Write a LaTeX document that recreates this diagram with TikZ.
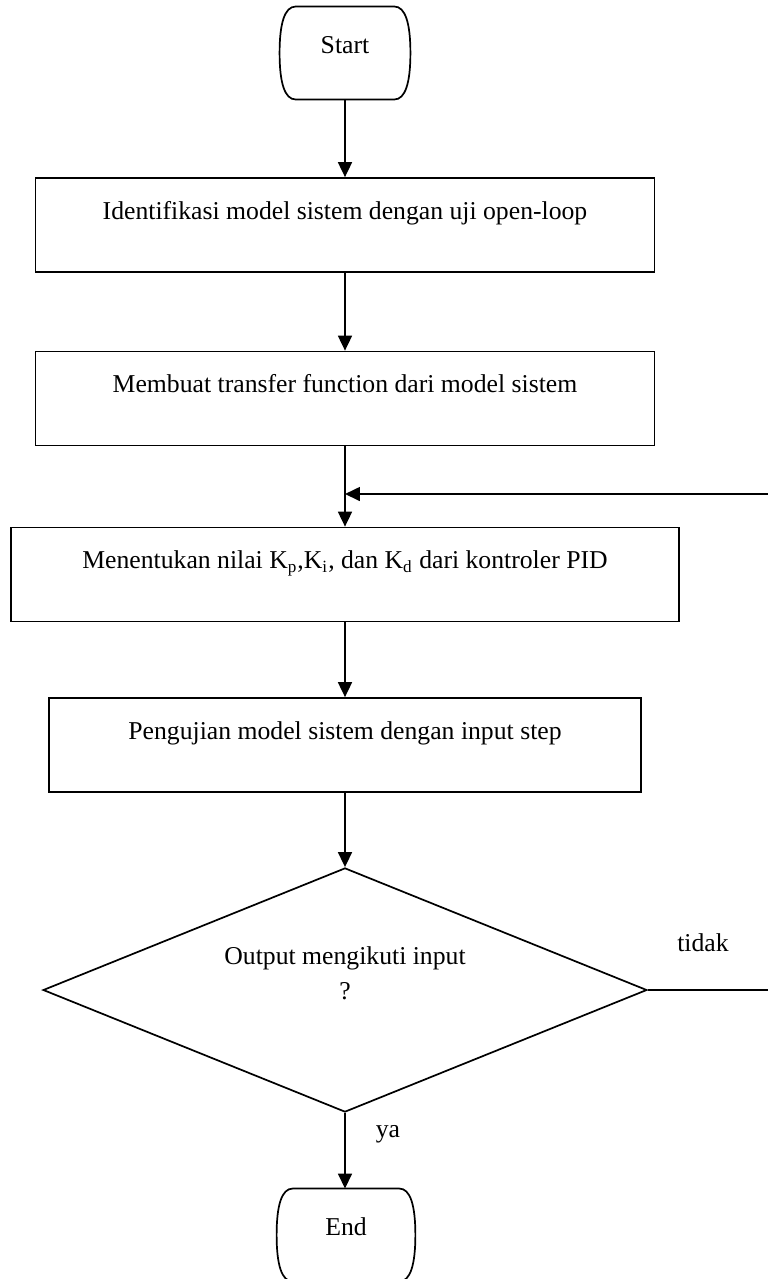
\documentclass[tikz,border=0pt]{standalone}
\usepackage{fontspec}
\setmainfont{Liberation Serif}
\usetikzlibrary{shapes.geometric, arrows.meta}

% outline of a start/end terminal round a named node
\newcommand{\termoutline}[1]{%
  \draw[line width=0.8pt] ([xshift=-7.5pt]#1.north east)
    .. controls ([xshift=-2.4pt]#1.north east) and ([yshift=14pt]#1.east) .. (#1.east)
    .. controls ([yshift=-14pt]#1.east) and ([xshift=-2.4pt]#1.south east) .. ([xshift=-7.5pt]#1.south east)
    -- ([xshift=7.5pt]#1.south west)
    .. controls ([xshift=2.4pt]#1.south west) and ([yshift=-14pt]#1.west) .. (#1.west)
    .. controls ([yshift=14pt]#1.west) and ([xshift=2.4pt]#1.north west) .. ([xshift=7.5pt]#1.north west)
    -- cycle;}

\begin{document}
\begin{tikzpicture}[
    x=0.467pt, y=-0.467pt,
    every node/.style={font=\fontsize{12}{14.5}\selectfont},
    terminal/.style={rectangle, minimum width=60.7pt, minimum height=43pt, text height=8pt, text depth=8pt, inner sep=0pt},
    process/.style={draw, line width=0.8pt, rectangle, minimum height=43.9pt, text height=9pt, text depth=14.6pt, inner sep=0pt},
    decision/.style={draw, line width=0.8pt, diamond, minimum width=282pt, minimum height=114pt, inner sep=0pt},
    arr/.style={-{Triangle[length=7pt, width=6.5pt]}, line width=0.9pt}
]
\useasboundingbox (0,0) rectangle (767,1279);

% Start
\node[terminal] (start) at (345,53) {Start};
\termoutline{start}

% Model identification
\node[process, minimum width=289pt] (ident) at (345,225) {Identifikasi model sistem dengan uji open-loop};
\node[process, minimum width=289pt] (tf) at (345,398.5) {Membuat transfer function dari model sistem};

% Tuning the controller (loop returns here)
\coordinate (jn) at (345,494);
\node[process, minimum width=312pt] (pid) at (345,574.5) {Menentukan nilai K\textsubscript{p},K\textsubscript{i}, dan K\textsubscript{d} dari kontroler PID};
\node[process, minimum width=276.5pt] (uji) at (345,745) {Pengujian model sistem dengan input step};

% Decision
\node[decision] (dec) at (345,990) {};
\node[align=center] (dectxt) at (345,973) {Output mengikuti input\\[1.8pt]?};

% End
\node[terminal, minimum width=64.4pt] (end) at (346,1235) {End};
\termoutline{end}

% Labels
\coordinate (loop) at (771,494);
\node[anchor=base] (tidak) at (703,951) {tidak};
\node[anchor=base] (ya) at (388,1137) {ya};

% Arrows
\draw[arr] (start) -- (ident);
\draw[arr] (ident) -- (tf);
\draw[arr] (tf) -- (pid);
\draw[arr] (pid) -- (uji);
\draw[arr] (uji) -- (dec);
\draw[arr] (dec) -- (end.north -| dec.south);
\draw[arr] (dec.east) -| (loop) -- (jn);

\end{tikzpicture}
\end{document}
